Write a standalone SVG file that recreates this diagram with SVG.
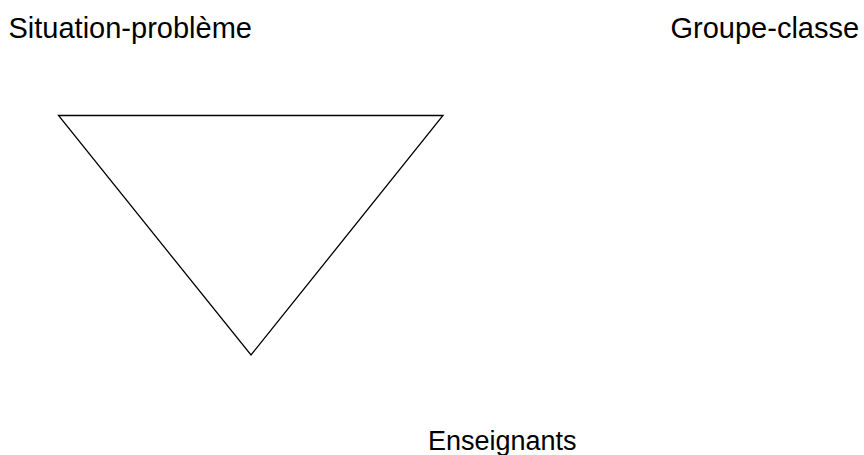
<svg xmlns="http://www.w3.org/2000/svg" width="864" height="455" viewBox="0 0 864 455">
<style>
.lbl{font-family:"Liberation Sans",Arial,sans-serif;font-size:29px;fill:#000}
.edge{fill:none;stroke:#000;stroke-width:1.3}
</style>
<rect width="864" height="455" fill="#fff"/>
<g id="situation"><text class="lbl" x="8.5" y="38">Situation-problème</text></g>
<g id="groupe"><text class="lbl" x="670.5" y="38">Groupe-classe</text></g>
<g id="enseignants"><text class="lbl" x="428" y="450" style="font-size:27px">Enseignants</text></g>
<g id="connectors"><polygon class="edge" points="58.5,115.5 443,115.5 251,355"/></g>
</svg>
